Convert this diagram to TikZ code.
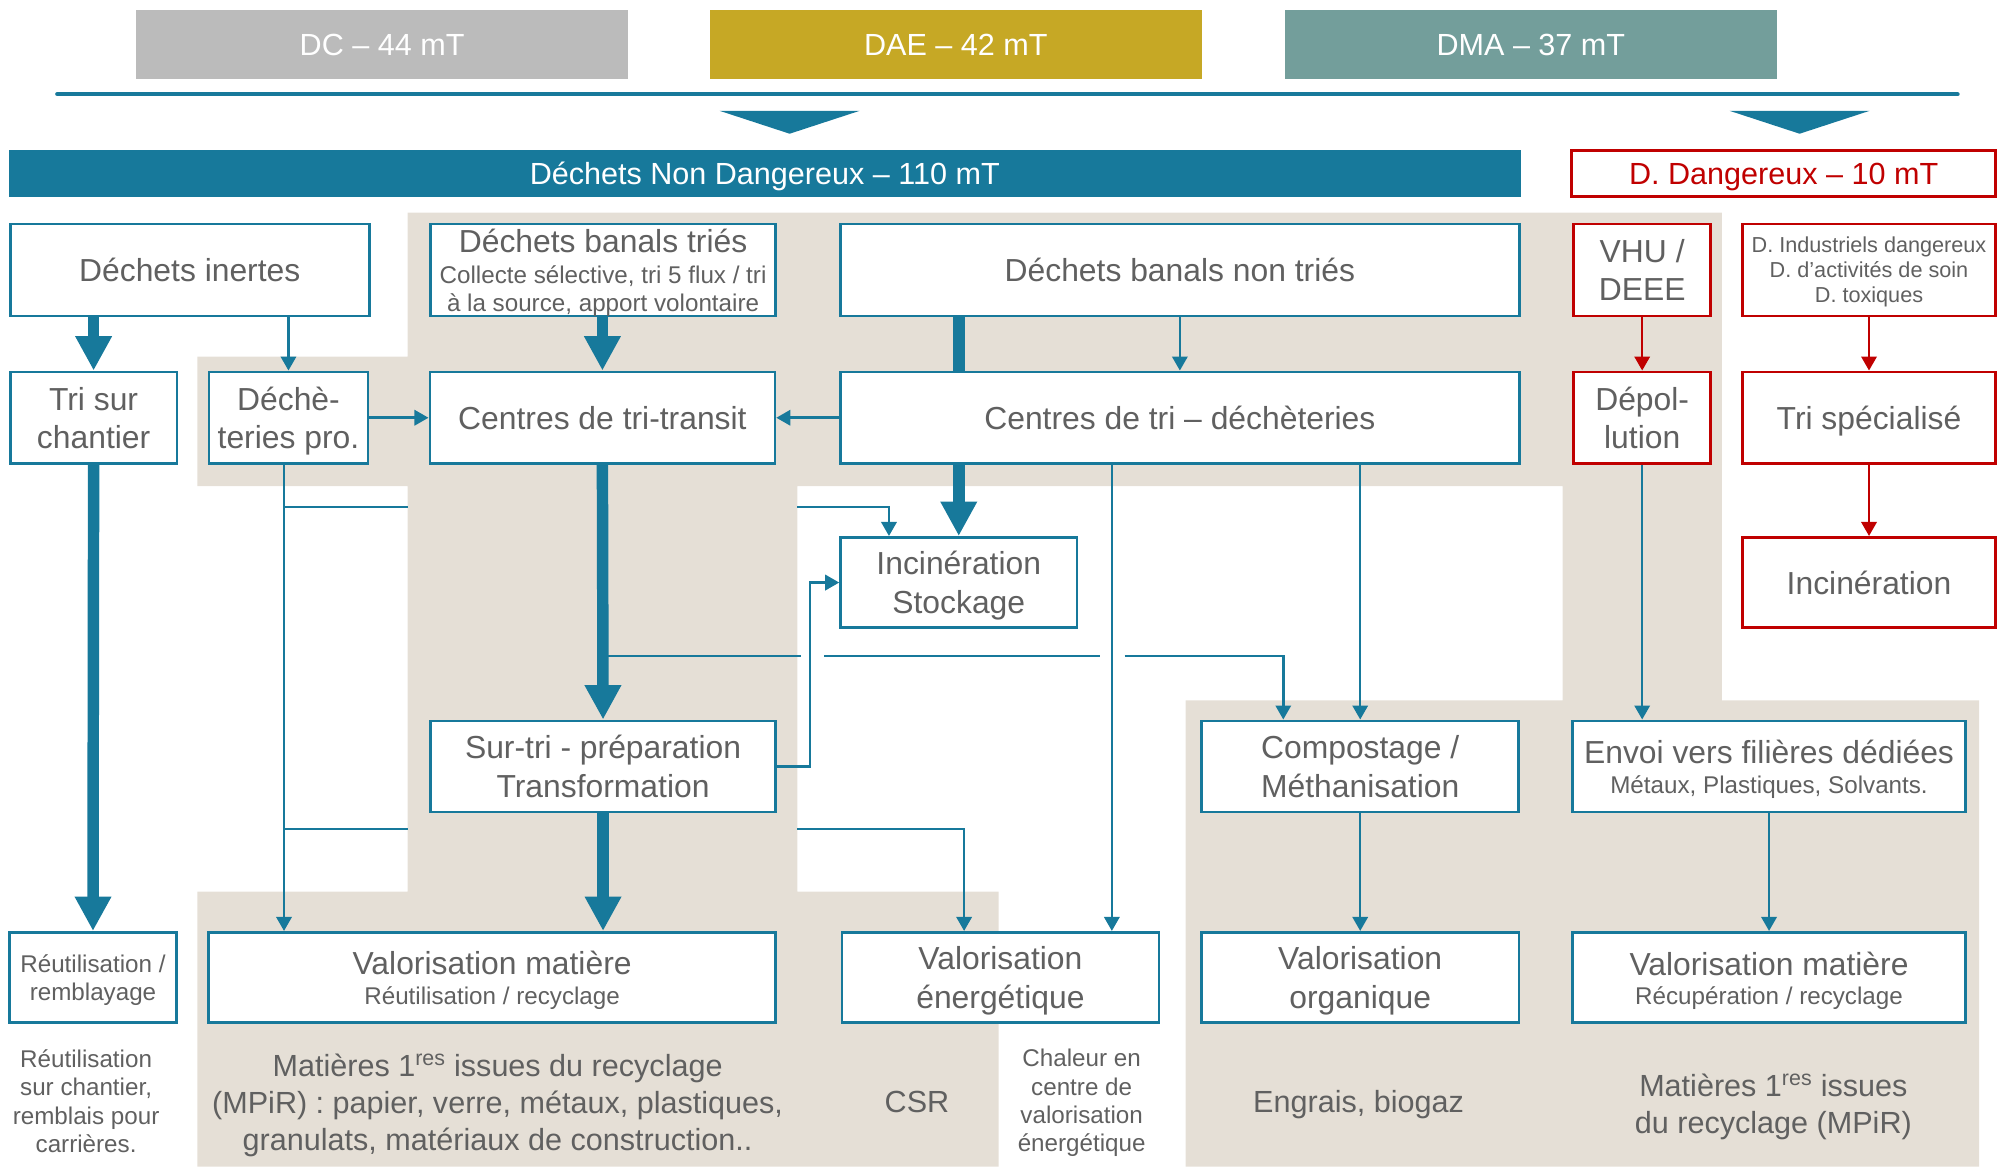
\documentclass[tikz,border=0pt]{standalone}
\usepackage{fontspec}
\setmainfont{Liberation Sans}
\usetikzlibrary{arrows.meta}
\definecolor{dblue}{HTML}{17799B}
\definecolor{dred}{HTML}{C00000}
\definecolor{beige}{HTML}{E5DFD6}
\definecolor{cgray}{HTML}{BBBBBB}
\definecolor{cgold}{HTML}{C6A825}
\definecolor{cteal}{HTML}{739E9B}
\definecolor{tgray}{HTML}{606060}
\newcommand{\fBig}{\fontsize{25}{30}\selectfont}
\newcommand{\fMid}{\fontsize{24}{28.8}\selectfont}
\newcommand{\fSml}{\fontsize{19}{22.2}\selectfont}
\newcommand{\fTny}{\fontsize{17}{19.6}\selectfont}
\begin{document}
\begin{tikzpicture}[x=1pt,y=-1pt,
  box/.style={draw=dblue,line width=2.1pt,fill=white,inner sep=0pt,text=tgray,align=center,font=\fBig},
  rbox/.style={box,draw=dred},
  one/.style={text height=18pt,text depth=0pt},
  two/.style={text height=48pt,text depth=0pt},
  stwo/.style={font=\fSml,text height=35.8pt,text depth=0pt},
  tthree/.style={font=\fTny,text height=51.4pt,text depth=0pt},
  txt/.style={inner sep=0pt,text=tgray,align=center},
  topbox/.style={inner sep=0pt,text=white,font=\fMid,minimum width=386pt,minimum height=54pt,text height=17.5pt,text depth=0pt},
  ln/.style={draw=dblue,line width=2pt},
  arr/.style={ln,-{Triangle[width=12pt,length=11pt]}},
  rarr/.style={draw=dred,line width=2pt,-{Triangle[width=12pt,length=11pt]}},
  thk/.style={draw=dblue,line width=9pt},
  tarr/.style={thk,-{Triangle[width=27pt,length=27pt]}}
]
\useasboundingbox (0,0) rectangle (1568,916);
% background
\fill[beige] (320,167) -- (1352,167) -- (1352,550) -- (1554,550) -- (1554,916) -- (931,916) -- (931,550) -- (1227,550) -- (1227,381.6) -- (626,381.6) -- (626,700) -- (784,700) -- (784,916) -- (155,916) -- (155,700) -- (320,700) -- (320,381.6) -- (155,381.6) -- (155,280) -- (320,280) -- cycle;

% header
\node[topbox,fill=cgray] (dc) at (300,35) {DC – 44 mT};
\node[topbox,fill=cgold] (dae) at (750.5,35) {DAE – 42 mT};
\node[topbox,fill=cteal] (dma) at (1202,35) {DMA – 37 mT};
\coordinate (la) at (45,74);
\coordinate (lb) at (1537,74);
\draw[dblue,line width=3.4pt,line cap=round] (la) -- (lb);
\fill[dblue] (565,87) -- (675,87) -- (620,105) -- cycle;
\fill[dblue] (1358,87) -- (1468,87) -- (1413,105) -- cycle;
\node[fill=dblue,inner sep=0pt,minimum width=1187pt,minimum height=36.5pt,text=white,font=\fMid,text height=17.5pt,text depth=0pt] (dnd) at (600.5,136.25) {Déchets Non Dangereux – 110 mT};
\node[draw=dred,line width=2.1pt,fill=white,inner sep=0pt,minimum width=333pt,minimum height=36pt,text=dred,font=\fMid,text height=17.5pt,text depth=0pt] (dd) at (1400.5,136.25) {D. Dangereux – 10 mT};

% row 1
\node[box,one,minimum width=282pt,minimum height=72pt] (inertes) at (149,212) {Déchets inertes};
\node[box,minimum width=271pt,minimum height=72pt] (tries) at (473.5,212) {};
\node[box,one,minimum width=533pt,minimum height=72pt] (nontries) at (926.4,212) {Déchets banals non triés};
\node[rbox,two,minimum width=107.6pt,minimum height=72pt] (vhu) at (1289.4,212) {VHU /\\DEEE};
\node[rbox,tthree,minimum width=199pt,minimum height=72pt] (dind) at (1467.5,212) {D. Industriels dangereux\\D. d’activités de soin\\D. toxiques};
\node[txt,font=\fBig,anchor=base] (tries1) at (473.5,198.4) {Déchets banals triés};
\node[txt,font=\fSml,anchor=base] (tries2) at (473.5,222.5) {Collecte sélective, tri 5 flux / tri};
\node[txt,font=\fSml,anchor=base] (tries3) at (473.5,244.7) {à la source, apport volontaire};

% row 2
\node[box,two,minimum width=131pt,minimum height=72pt] (trich) at (73.5,328) {Tri sur\\chantier};
\node[box,two,minimum width=125pt,minimum height=72pt] (dechpro) at (226.5,328) {Déchè-\\teries pro.};
\node[box,one,minimum width=271pt,minimum height=72pt] (transit) at (473,328) {Centres de tri-transit};
\node[box,one,minimum width=533pt,minimum height=72pt] (ctdech) at (926.4,328) {Centres de tri – déchèteries};
\node[rbox,two,minimum width=107.6pt,minimum height=72pt] (depol) at (1289.4,328) {Dépol-\\lution};
\node[rbox,one,minimum width=199pt,minimum height=72pt] (trispec) at (1467.5,328) {Tri spécialisé};

% row 3
\node[box,two,minimum width=185.6pt,minimum height=71pt] (incst) at (752.8,457.4) {Incinération\\Stockage};
\node[rbox,one,minimum width=199pt,minimum height=71pt] (incred) at (1467.5,457.4) {Incinération};

% row 4
\node[box,two,minimum width=271pt,minimum height=71.6pt] (surtri) at (473.5,601.8) {Sur-tri - préparation\\Transformation};
\node[box,two,minimum width=249pt,minimum height=71.6pt] (compost) at (1068,601.8) {Compostage /\\Méthanisation};
\node[box,minimum width=309pt,minimum height=71.6pt] (envoi) at (1389,601.8) {};
\node[txt,font=\fBig,anchor=base] (envoi1) at (1389,599.3) {Envoi vers filières dédiées};
\node[txt,font=\fSml,anchor=base] (envoi2) at (1389,623.4) {Métaux, Plastiques, Solvants.};

% row 5
\node[box,stwo,minimum width=131pt,minimum height=71pt] (reut) at (73,767.5) {Réutilisation /\\remblayage};
\node[box,minimum width=445pt,minimum height=71pt] (valmat) at (386.4,767.5) {};
\node[txt,font=\fBig,anchor=base] (valmat1) at (386.4,764.8) {Valorisation matière};
\node[txt,font=\fSml,anchor=base] (valmat2t) at (386.4,789) {Réutilisation / recyclage};
\node[box,two,minimum width=249pt,minimum height=71pt] (valen) at (785.5,767.5) {Valorisation\\énergétique};
\node[box,two,minimum width=249.5pt,minimum height=71pt] (valorg) at (1068,767.5) {Valorisation\\organique};
\node[box,minimum width=309pt,minimum height=71pt] (valmat2) at (1389,767.5) {};
\node[txt,font=\fBig,anchor=base] (valmatb1) at (1389,765.6) {Valorisation matière};
\node[txt,font=\fSml,anchor=base] (valmatb2) at (1389,789) {Récupération / recyclage};

% bottom texts (anchor = baseline of last line)
\node[txt,font=\fSml,anchor=base] (b1) at (67.6,904.8) {Réutilisation\\sur chantier,\\remblais pour\\carrières.};
\node[txt,font=\fMid,anchor=base] (b2) at (390.7,903) {Matières 1\textsuperscript{res} issues du recyclage\\(MPiR) : papier, verre, métaux, plastiques,\\granulats, matériaux de construction..};
\node[txt,font=\fMid,anchor=base] (b3) at (720,873.3) {CSR};
\node[txt,font=\fSml,anchor=base] (b4) at (849.3,904.3) {Chaleur en\\centre de\\valorisation\\énergétique};
\node[txt,font=\fMid,anchor=base] (b5) at (1066.7,873.3) {Engrais, biogaz};
\node[txt,font=\fMid,anchor=base] (b6) at (1392.4,889.9) {Matières 1\textsuperscript{res} issues\\du recyclage (MPiR)};

% thin connectors
\draw[arr] (dechpro.north |- inertes.south) -- (dechpro.north);
\draw[arr] (dechpro.east) -- (transit.west);
\draw[arr] (ctdech.west) -- (transit.east);
\draw[arr] (nontries.south) -- (ctdech.north);
\coordinate (vx) at (223,0);
\draw[arr] (dechpro.south -| vx) -- (valmat.north -| vx);
\coordinate (h1a) at (223,398);
\coordinate (h1b) at (320,398);
\coordinate (h1c) at (626,398);
\coordinate (h1d) at (698,398);
\draw[ln] (h1a) -- (h1b);
\draw[arr] (h1c) -| (incst.north -| h1d);
\coordinate (h2a) at (223,651);
\coordinate (h2b) at (320,651);
\coordinate (h2c) at (626,651);
\coordinate (h2d) at (757,651);
\draw[ln] (h2a) -- (h2b);
\draw[arr] (h2c) -| (valen.north -| h2d);
\draw[arr] (surtri.east) -- ++(26,0) |- (incst.west);
\coordinate (h3a) at (473,515);
\coordinate (h3b) at (629,515);
\coordinate (h3c) at (647,515);
\coordinate (h3d) at (864,515);
\coordinate (h3e) at (883,515);
\coordinate (h3f) at (1007.6,515);
\draw[ln] (h3a) -- (h3b);
\draw[ln] (h3c) -- (h3d);
\draw[arr] (h3e) -| (compost.north -| h3f);
\coordinate (vy) at (873,0);
\draw[arr] (ctdech.south -| vy) -- (valen.north -| vy);
\draw[arr] (ctdech.south -| compost.north) -- (compost.north);
\draw[arr] (compost.south) -- (valorg.north);
\draw[arr] (envoi.south) -- (valmat2.north);
\draw[arr] (depol.south) -- (envoi.north -| depol.south);
\draw[rarr] (vhu.south) -- (depol.north);
\draw[rarr] (dind.south) -- (trispec.north);
\draw[rarr] (trispec.south) -- (incred.north);

% thick connectors
\draw[tarr] (trich.north |- inertes.south) -- (trich.north);
\draw[tarr] (trich.south) -- (reut.north);
\draw[tarr] (transit.north |- tries.south) -- (transit.north);
\draw[tarr] (transit.south) -- (surtri.north);
\draw[tarr] (surtri.south) -- (surtri.south |- valmat.north);
\draw[thk] (incst.north |- nontries.south) -- (incst.north |- ctdech.north);
\draw[tarr] (incst.north |- ctdech.south) -- (incst.north);
\end{tikzpicture}
\end{document}
